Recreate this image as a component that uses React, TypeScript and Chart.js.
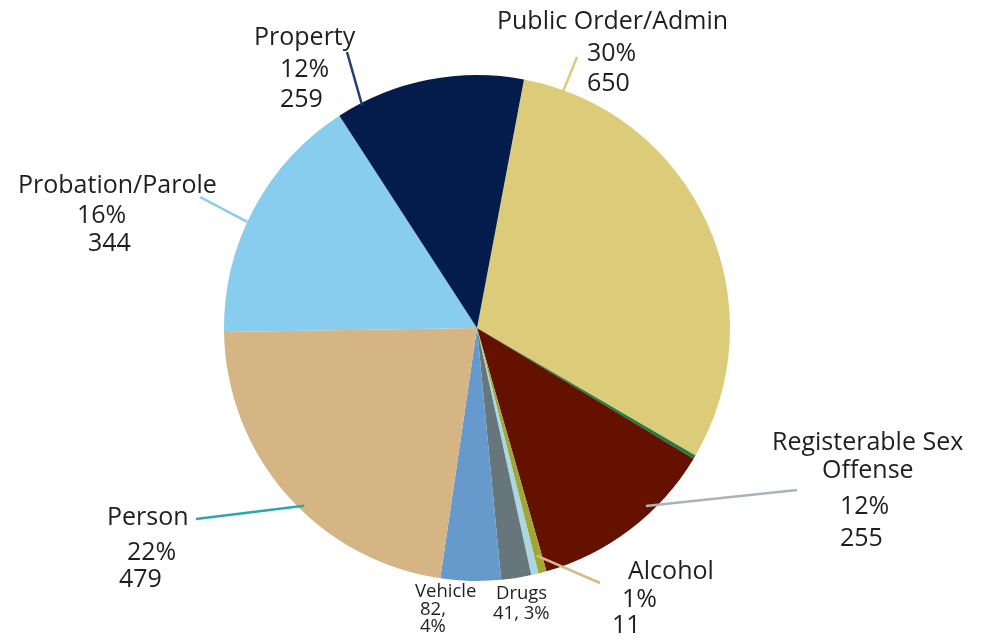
import React, { useEffect, useRef } from "react";
import { Chart, registerables } from "chart.js";

Chart.register(...registerables);

// ---- data ----
const categories = [
  "Public Order/Admin",
  "(unlabeled green)",
  "Registerable Sex Offense",
  "Alcohol",
  "(unlabeled light blue)",
  "Drugs",
  "Vehicle",
  "Person",
  "Probation/Parole",
  "Property",
];
const counts = [650, 5, 255, 11, 10, 41, 82, 479, 344, 259];
const percentLabels = ["30%", "", "12%", "1%", "", "3%", "4%", "22%", "16%", "12%"];

const sliceColors = [
  "#dccb79",
  "#1e7d3f",
  "#651100",
  "#a2a734",
  "#a9d7e3",
  "#66767a",
  "#6699cc",
  "#d5b584",
  "#88ccee",
  "#031c4b",
];

// ---- label layout (text lines, positions) ----
type Line = { t: string; x: number; y: number; s?: number };
type Lbl = {
  idx: number;
  lines: Line[];
  leader?: { color: string; outer: [number, number]; angle: number; rf: number };
};
const FONT = "'Open Sans', 'Noto Sans', sans-serif";
const BIG = 25;
const SMALL = 18.5;
const labelLayout: Lbl[] = [
  {
    idx: 0,
    lines: [
      { t: categories[0], x: 497, y: 22 },
      { t: percentLabels[0], x: 587, y: 54 },
      { t: String(counts[0]), x: 587, y: 84 },
    ],
    leader: { color: "#dccb79", outer: [577, 57], angle: -70, rf: 0.99 },
  },
  {
    idx: 9,
    lines: [
      { t: categories[9], x: 254, y: 38 },
      { t: percentLabels[9], x: 280, y: 70 },
      { t: String(counts[9]), x: 280, y: 100 },
    ],
    leader: { color: "#243f73", outer: [347, 52], angle: -117.3, rf: 0.99 },
  },
  {
    idx: 8,
    lines: [
      { t: categories[8], x: 18, y: 186 },
      { t: percentLabels[8], x: 77, y: 216 },
      { t: String(counts[8]), x: 88, y: 244 },
    ],
    leader: { color: "#88ccee", outer: [200, 197], angle: -155.2, rf: 1.0 },
  },
  {
    idx: 7,
    lines: [
      { t: categories[7], x: 107, y: 518 },
      { t: percentLabels[7], x: 127, y: 553 },
      { t: String(counts[7]), x: 119, y: 580 },
    ],
    leader: { color: "#2aa8aa", outer: [196, 519], angle: 134.2, rf: 0.98 },
  },
  {
    idx: 6,
    lines: [
      { t: categories[6], x: 415, y: 592, s: SMALL },
      { t: String(counts[6]) + ",", x: 420, y: 610, s: SMALL },
      { t: percentLabels[6], x: 420, y: 627, s: SMALL },
    ],
  },
  {
    idx: 5,
    lines: [
      { t: categories[5], x: 496, y: 594, s: SMALL },
      { t: String(counts[5]) + ", " + percentLabels[5], x: 493, y: 614, s: SMALL },
    ],
  },
  {
    idx: 3,
    lines: [
      { t: categories[3], x: 628, y: 572 },
      { t: percentLabels[3], x: 622, y: 600 },
      { t: String(counts[3]), x: 612, y: 626 },
    ],
    leader: { color: "#d8b98a", outer: [600, 583], angle: 75.3, rf: 0.93 },
  },
  {
    idx: 2,
    lines: [
      { t: "Registerable Sex", x: 772, y: 443 },
      { t: "Offense", x: 822, y: 471 },
      { t: percentLabels[2], x: 840, y: 507 },
      { t: String(counts[2]), x: 840, y: 539 },
    ],
    leader: { color: "#aab4b8", outer: [797, 490], angle: 46.5, rf: 0.97 },
  },
];

const labelPlugin = {
  id: "pieLabels",
  afterDraw(chart: any) {
    const ctx = chart.ctx as CanvasRenderingContext2D;
    const arc = chart.getDatasetMeta(0).data[0];
    if (!arc) return;
    const cx = arc.x;
    const cy = arc.y;
    const r = arc.outerRadius;
    ctx.save();
    for (const l of labelLayout) {
      if (l.leader) {
        const a = (l.leader.angle * Math.PI) / 180;
        const ix = cx + Math.cos(a) * r * l.leader.rf;
        const iy = cy + Math.sin(a) * r * l.leader.rf;
        ctx.strokeStyle = l.leader.color;
        ctx.lineWidth = 2.5;
        ctx.beginPath();
        ctx.moveTo(l.leader.outer[0], l.leader.outer[1]);
        ctx.lineTo(ix, iy);
        ctx.stroke();
      }
      ctx.fillStyle = "#1f1f1f";
      ctx.textAlign = "left";
      ctx.textBaseline = "middle";
      for (const ln of l.lines) {
        ctx.font = `${ln.s ?? BIG}px ${FONT}`;
        ctx.fillText(ln.t, ln.x, ln.y);
      }
    }
    ctx.restore();
  },
};

export default function App() {
  const ref = useRef<HTMLCanvasElement | null>(null);
  useEffect(() => {
    if (!ref.current) return;
    const chart = new Chart(ref.current, {
      type: "pie",
      data: {
        labels: categories,
        datasets: [
          {
            data: counts,
            backgroundColor: sliceColors,
            borderWidth: 0,
          },
        ],
      },
      options: {
        animation: false,
        responsive: false,
        devicePixelRatio: 1,
        rotation: 10.7,
        layout: { padding: { left: 224, right: 259, top: 75, bottom: 59 } },
        plugins: {
          legend: { display: false },
          tooltip: { enabled: false },
        },
      },
      plugins: [labelPlugin],
    });
    return () => chart.destroy();
  }, []);
  return (
    <div style={{ position: "fixed", left: 0, top: 0, width: 989, height: 640, background: "#fff" }}>
      <canvas ref={ref} width={989} height={640} style={{ width: 989, height: 640 }} />
    </div>
  );
}
